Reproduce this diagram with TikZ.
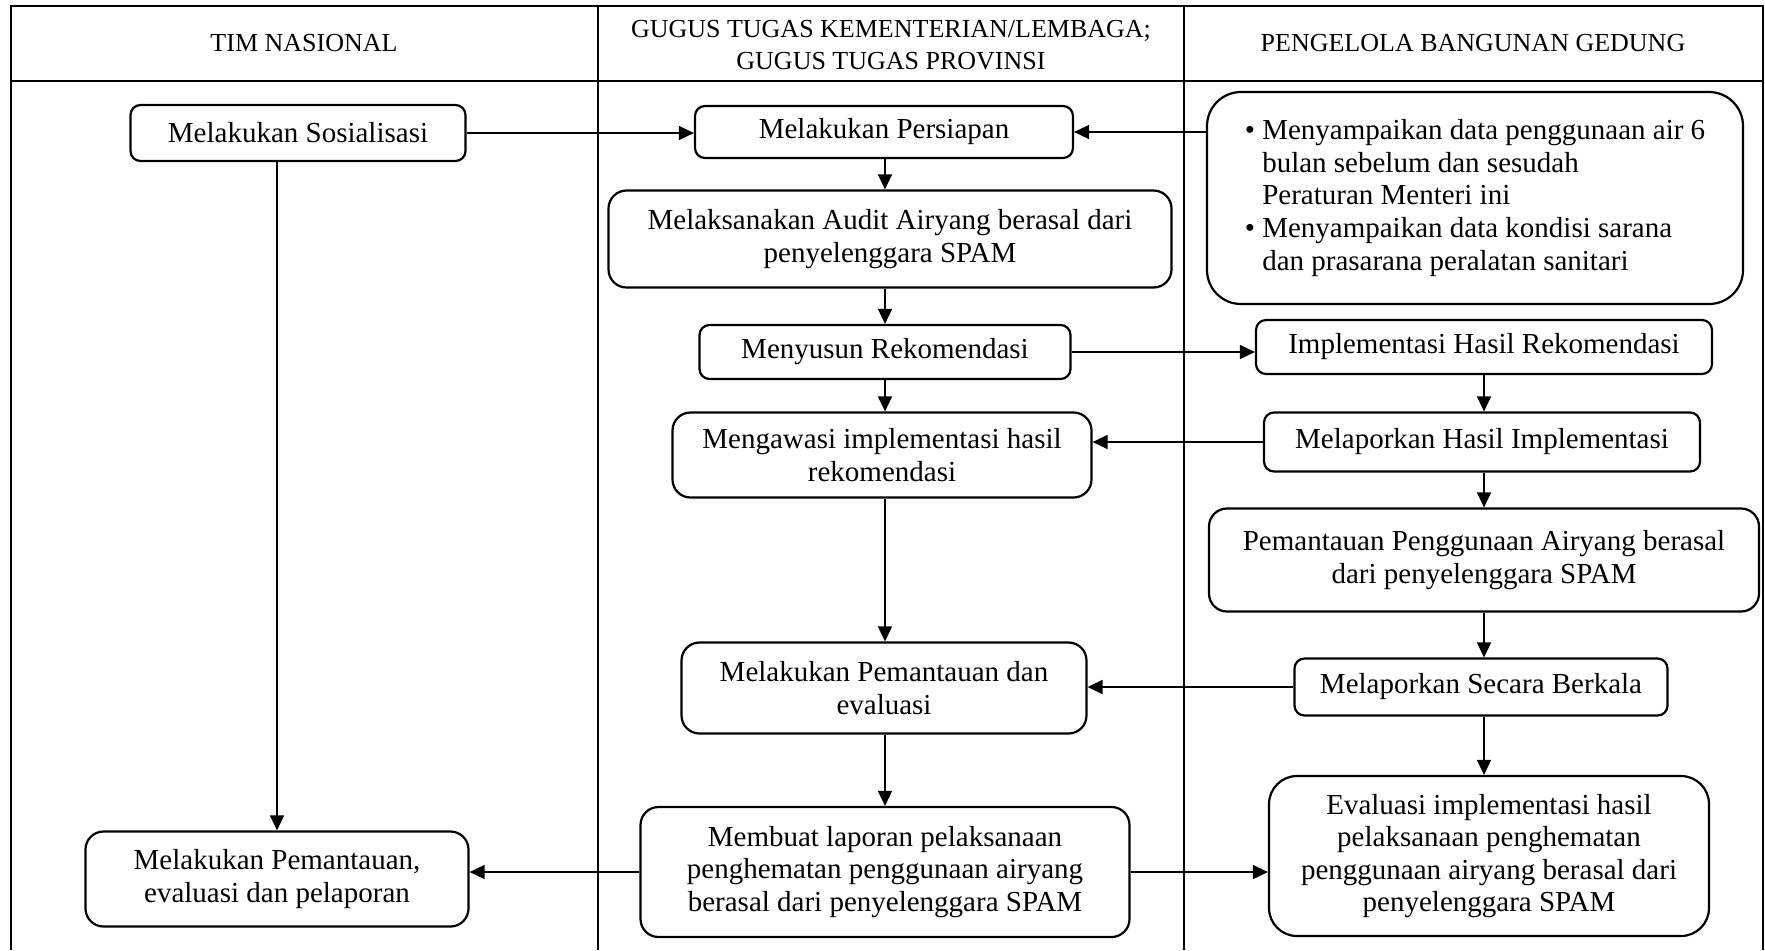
\documentclass[tikz,border=0pt]{standalone}
\usepackage{fontspec}
\setmainfont{Liberation Serif}
\usetikzlibrary{arrows.meta}

\begin{document}
\begin{tikzpicture}[
        x=0.5pt, y=-0.5pt,
        every node/.style={font=\fontsize{14.5}{16.3}\selectfont},
        box/.style={draw, line width=1.1pt, rectangle, rounded corners=5pt, inner sep=0pt, align=center},
        bigbox/.style={box, rounded corners=9pt},
        lane/.style={line width=1pt},
        head/.style={align=center, font=\fontsize{13}{16.3}\selectfont},
        arr/.style={-{Triangle[length=7.5pt,width=7pt]}, line width=0.8pt}
    ]
    \useasboundingbox (0,0) rectangle (1765,950);

    % lanes
    \draw[lane] (11,950) -- (11,6) -- (1763,6) -- (1763,950);
    \draw[lane] (11,81) -- (1763,81);
    \draw[lane] (598,6) -- (598,950);
    \draw[lane] (1184,6) -- (1184,950);

    \node[head] (h_tim) at (304,43) {TIM NASIONAL};
    \node[head] (h_gugus) at (891,45) {GUGUS TUGAS KEMENTERIAN/LEMBAGA;\\ GUGUS TUGAS PROVINSI};
    \node[head] (h_pengelola) at (1473,43) {PENGELOLA BANGUNAN GEDUNG};

    % tim nasional
    \node[box, minimum width=167.5pt, minimum height=28pt] (sos) at (298,133) {Melakukan Sosialisasi};
    \node[bigbox, minimum width=191.5pt, minimum height=47.5pt] (monev) at (277,879) {Melakukan Pemantauan,\\ evaluasi dan pelaporan};

    % gugus tugas
    \node[box, minimum width=189pt, minimum height=26pt] (prep) at (884,132) {Melakukan Persiapan};
    \node[bigbox, minimum width=281.5pt, minimum height=48.5pt] (audit) at (890,239) {Melaksanakan Audit Airyang berasal dari\\ penyelenggara SPAM};
    \node[box, minimum width=185.5pt, minimum height=27pt] (rek) at (885,352) {Menyusun Rekomendasi};
    \node[bigbox, minimum width=209.5pt, minimum height=42.5pt] (awasi) at (882,455) {Mengawasi implementasi hasil\\ rekomendasi};
    \node[bigbox, minimum width=202.5pt, minimum height=45.5pt] (pantauE) at (884,688) {Melakukan Pemantauan dan\\ evaluasi};
    \node[bigbox, minimum width=244.5pt, minimum height=65pt] (buat) at (885,872) {Membuat laporan pelaksanaan\\ penghematan penggunaan airyang\\ berasal dari penyelenggara SPAM};

    % pengelola
    \node[box, rounded corners=17pt, minimum width=268pt, minimum height=106pt, align=left] (info) at (1475,198)
        {\textbullet\ Menyampaikan data penggunaan air 6\\
         \phantom{\textbullet\ }bulan sebelum dan sesudah\\
         \phantom{\textbullet\ }Peraturan Menteri ini\\
         \textbullet\ Menyampaikan data kondisi sarana\\
         \phantom{\textbullet\ }dan prasarana peralatan sanitari};
    \node[box, minimum width=228pt, minimum height=27pt] (impl) at (1484,347) {Implementasi Hasil Rekomendasi};
    \node[box, minimum width=218pt, minimum height=29.5pt] (lapH) at (1482,442) {Melaporkan Hasil Implementasi};
    \node[bigbox, minimum width=275pt, minimum height=51.5pt] (pantauP) at (1484,560) {Pemantauan Penggunaan Airyang berasal\\ dari penyelenggara SPAM};
    \node[box, minimum width=186.5pt, minimum height=28.5pt] (lapS) at (1481,687) {Melaporkan Secara Berkala};
    \node[bigbox, rounded corners=14pt, minimum width=220pt, minimum height=80pt] (eval) at (1489,856) {Evaluasi implementasi hasil\\ pelaksanaan penghematan\\ penggunaan airyang berasal dari\\ penyelenggara SPAM};

    % connectors
    \draw[arr] (sos.east) -- (sos.east -| prep.west);
    \draw[arr] (info.west |- prep.east) -- (prep.east);
    \draw[arr] (sos.south -| monev.north) -- (monev.north);
    \draw[arr] (prep.south -| rek.south) -- (audit.north -| rek.south);
    \draw[arr] (audit.south -| rek.north) -- (rek.north);
    \draw[arr] (rek.east) -- (rek.east -| impl.west);
    \draw[arr] (rek.south) -- (rek.south |- awasi.north);
    \draw[arr] (impl.south) -- (impl.south |- lapH.north);
    \draw[arr] (lapH.west) -- (lapH.west -| awasi.east);
    \draw[arr] (lapH.south -| impl.south) -- (pantauP.north -| impl.south);
    \draw[arr] (awasi.south -| rek.south) -- (pantauE.north -| rek.south);
    \draw[arr] (pantauP.south -| impl.south) -- (lapS.north -| impl.south);
    \draw[arr] (lapS.west) -- (lapS.west -| pantauE.east);
    \draw[arr] (lapS.south -| impl.south) -- (eval.north -| impl.south);
    \draw[arr] (pantauE.south -| rek.south) -- (buat.north -| rek.south);
    \draw[arr] (buat.west) -- (buat.west -| monev.east);
    \draw[arr] (buat.east) -- (buat.east -| eval.west);

\end{tikzpicture}
\end{document}
